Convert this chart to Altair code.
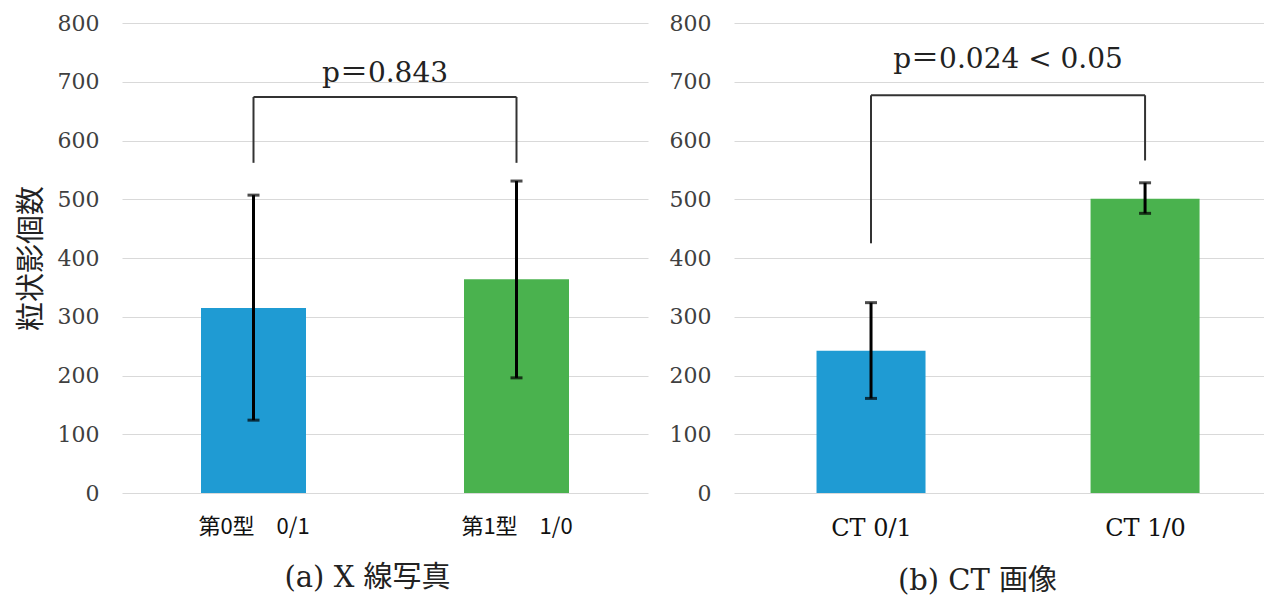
import altair as alt
import pandas as pd

# ---- data ----
cats_a = ["第0型　0/1", "第1型　1/0"]
means_a = [315, 364]
lo_a = [124, 196]
hi_a = [507, 531]
bracket_a_legs = [562, 562]
bracket_a_top = 674
p_a_text = "p＝0.843"
p_a_y = 714

cats_b = ["CT 0/1", "CT 1/0"]
means_b = [242, 501]
lo_b = [161, 476]
hi_b = [324, 528]
bracket_b_legs = [425, 566]
bracket_b_top = 677
p_b_text = "p＝0.024 < 0.05"
p_b_y = 737

bar_colors = ["#1F9BD3", "#4AB24E"]
y_ticks = [0, 100, 200, 300, 400, 500, 600, 700, 800]

SERIF = "DejaVu Serif, Noto Sans CJK JP"
CJK = "Noto Sans CJK JP"


def panel(cats, means, lo, hi, legs, top, ptext, py, width, xmax, bar_w, caption,
          label_font, label_size, ytitle, caption_x):
    n = len(cats)
    df = pd.DataFrame({"pos": list(range(n)), "cat": cats, "mean": means,
                       "lo": lo, "hi": hi, "color": bar_colors[:n],
                       "leg": legs, "top": [top] * n})
    arr = "[" + ",".join("'" + c + "'" for c in cats) + "]"
    xscale = alt.Scale(domain=[-0.5, xmax], nice=False, zero=False, padding=0)
    x = alt.X("pos:Q", scale=xscale,
              axis=alt.Axis(values=list(range(n)), labelExpr=arr + "[datum.value]",
                            grid=False, domain=False, ticks=False,
                            labelFont=label_font, labelFontSize=label_size,
                            labelColor="#111", labelPadding=23,
                            title=caption, titleFont=SERIF, titleFontSize=29,
                            titleFontWeight="normal", titleColor="#222",
                            titlePadding=26, titleX=caption_x))
    yax = dict(values=y_ticks, grid=True, gridColor="#d9d9d9", gridWidth=1.2,
               domain=False, ticks=False, labelFont=SERIF, labelFontSize=22,
               labelColor="#404040", labelPadding=23)
    if ytitle:
        yax.update(title=ytitle, titleFont=CJK, titleFontSize=29,
                   titleFontWeight="normal", titleColor="#222", titlePadding=11)
    else:
        yax.update(title=None)
    y = alt.Y("mean:Q", scale=alt.Scale(domain=[0, 800], nice=False, padding=0),
              axis=alt.Axis(**yax))

    base = alt.Chart(df)
    bars = base.mark_bar(size=bar_w).encode(x=x, y=y, color=alt.Color("color:N", scale=None))
    err = base.mark_rule(color="#000", strokeWidth=3).encode(x="pos:Q", y="lo:Q", y2="hi:Q")
    cap_lo = base.mark_tick(color="#000", thickness=3, size=12, orient="horizontal").encode(x="pos:Q", y="lo:Q")
    cap_hi = base.mark_tick(color="#000", thickness=3, size=12, orient="horizontal").encode(x="pos:Q", y="hi:Q")
    legs_r = base.mark_rule(color="#333", strokeWidth=2).encode(x="pos:Q", y="leg:Q", y2="top:Q")
    hdf = pd.DataFrame({"x0": [0], "x1": [n - 1], "top": [top]})
    horiz = alt.Chart(hdf).mark_rule(color="#333", strokeWidth=2).encode(x="x0:Q", x2="x1:Q", y="top:Q")
    tdf = pd.DataFrame({"xm": [(n - 1) / 2], "py": [py], "t": [ptext]})
    txt = alt.Chart(tdf).mark_text(font=SERIF, fontSize=28, color="#222").encode(
        x="xm:Q", y="py:Q", text="t:N")
    return alt.layer(bars, err, cap_lo, cap_hi, legs_r, horiz, txt).properties(
        width=width, height=470)


left = panel(cats_a, means_a, lo_a, hi_a, bracket_a_legs, bracket_a_top, p_a_text, p_a_y,
             526, 1.5, 105, "(a) X 線写真", CJK, 22, "粒状影個数", 245)
right = panel(cats_b, means_b, lo_b, hi_b, bracket_b_legs, bracket_b_top, p_b_text, p_b_y,
              530, 1.434, 109, "(b) CT 画像", SERIF, 24, None, 243)

chart = alt.hconcat(left, right, spacing=21).properties(
    padding={"left": 9, "top": 4, "right": 0, "bottom": 0},
    background="white"
).configure_view(strokeWidth=0)

chart.save("out.html", embed_options={"renderer": "svg", "actions": False})
